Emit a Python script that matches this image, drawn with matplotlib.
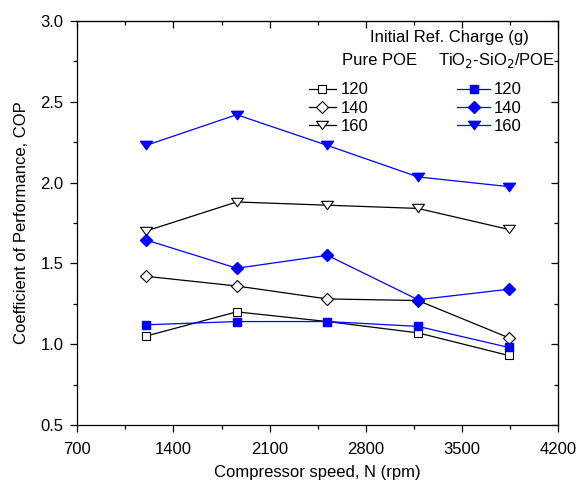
import matplotlib
matplotlib.use('Agg')
import matplotlib.pyplot as plt
from matplotlib.ticker import FormatStrFormatter

# data
speed = [1200, 1860, 2520, 3180, 3840]
charges = ['120', '140', '160']
pure_poe = {
    '120': [1.05, 1.20, 1.14, 1.07, 0.93],
    '140': [1.42, 1.36, 1.28, 1.27, 1.04],
    '160': [1.70, 1.88, 1.86, 1.84, 1.71],
}
nano_poe = {
    '120': [1.12, 1.14, 1.14, 1.11, 0.98],
    '140': [1.645, 1.47, 1.55, 1.275, 1.34],
    '160': [2.23, 2.42, 2.23, 2.035, 1.975],
}
# wide, flat down-triangle like the original symbol
tri_down = [(-1, 0.7), (1, 0.7), (0, -0.7), (-1, 0.7)]
markers = {'120': 's', '140': 'D', '160': tri_down}
msize = {'120': 6.3, '140': 6, '160': 8.6}

plt.rcParams['font.family'] = ['Liberation Sans', 'DejaVu Sans']
plt.rcParams['font.size'] = 12

fig = plt.figure(figsize=(5.8, 4.9), dpi=100)
ax = fig.add_axes([0.1333, 0.1327, 0.829, 0.8245])

h_pure = []
h_nano = []
for c in charges:
    l1, = ax.plot(speed, pure_poe[c], color='black', lw=0.9, marker=markers[c],
                  ms=msize[c], mfc='white', mec='black', mew=0.8, label=c)
    h_pure.append(l1)
for c in charges:
    l2, = ax.plot(speed, nano_poe[c], color='blue', lw=0.9, marker=markers[c],
                  ms=msize[c], mfc='blue', mec='blue', label=c)
    h_nano.append(l2)

xmaj = [700, 1400, 2100, 2800, 3500, 4200]
xmin = [1050, 1750, 2450, 3150, 3850]
ymaj = [0.5, 1.0, 1.5, 2.0, 2.5, 3.0]
ymin = [0.75, 1.25, 1.75, 2.25, 2.75]

ax.set_xlim(700, 4200)
ax.set_ylim(0.5, 3.0)
ax.set_xticks(xmaj)
ax.set_xticks(xmin, minor=True)
ax.set_yticks(ymaj)
ax.set_yticks(ymin, minor=True)
ax.yaxis.set_major_formatter(FormatStrFormatter('%.1f'))
ax.tick_params(which='both', direction='out', top=False, right=False,
               width=0.9, pad=5)
ax.tick_params(axis='x', which='major', pad=7)
ax.tick_params(which='major', length=5)
ax.tick_params(which='minor', length=3)

# inward ticks on top and right
ax2 = ax.secondary_xaxis('top')
ax2.set_xticks(xmaj)
ax2.set_xticks(xmin, minor=True)
ax2.tick_params(which='both', direction='in', labeltop=False, width=0.9)
ax2.tick_params(which='major', length=5)
ax2.tick_params(which='minor', length=3)
ay2 = ax.secondary_yaxis('right')
ay2.set_yticks(ymaj)
ay2.set_yticks(ymin, minor=True)
ay2.tick_params(which='both', direction='in', labelright=False, width=0.9)
ay2.tick_params(which='major', length=5)
ay2.tick_params(which='minor', length=3)
for s in ax.spines.values():
    s.set_linewidth(0.9)

ax.set_xlabel('Compressor speed, N (rpm)', labelpad=6)
ax.set_ylabel('Coefficient of Performance, COP', labelpad=8)

# legend block
ax.text(0.773, 0.958, 'Initial Ref. Charge (g)', transform=ax.transAxes,
        ha='center', va='center')
ax.text(0.628, 0.903, 'Pure POE', transform=ax.transAxes, ha='center', va='center')
ax.text(0.873, 0.903, r'TiO$_2$-SiO$_2$/POE', transform=ax.transAxes,
        ha='center', va='center')
leg1 = ax.legend(handles=h_pure, loc='upper left', bbox_to_anchor=(0.482, 0.848),
                 frameon=False, handlelength=1.6, handletextpad=0.3,
                 labelspacing=0.2, borderaxespad=0, borderpad=0)
ax.add_artist(leg1)
ax.legend(handles=h_nano, loc='upper left', bbox_to_anchor=(0.79, 0.848),
          frameon=False, handlelength=2.0, handletextpad=0.2,
          labelspacing=0.2, borderaxespad=0, borderpad=0)

fig.savefig('out.png', dpi=100)
